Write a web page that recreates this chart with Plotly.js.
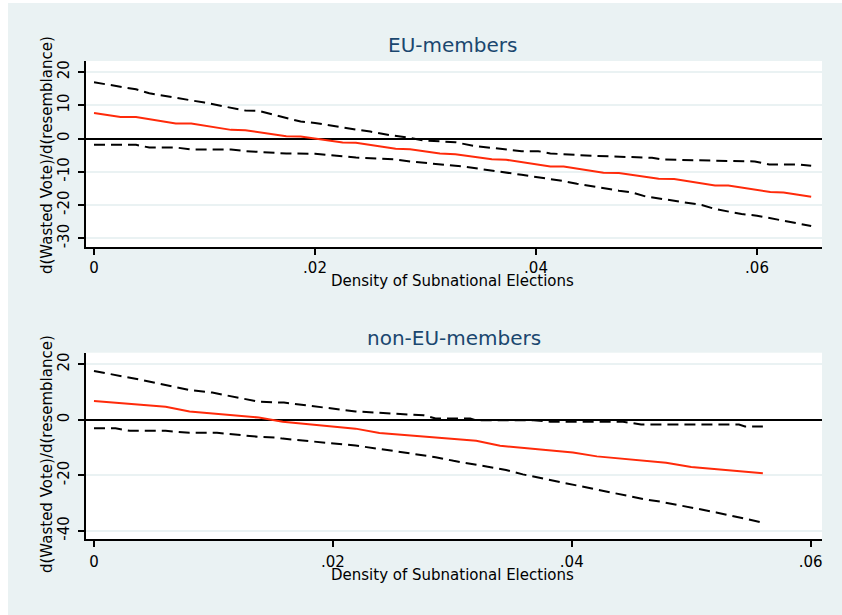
<!DOCTYPE html>
<html>
<head>
<meta charset="utf-8">
<script src="https://cdn.plot.ly/plotly-3.0.1.min.js"></script>
<style>
  html, body { margin: 0; padding: 0; background: #ffffff; }
  #chart { width: 842px; height: 615px; }
</style>
</head>
<body>
<div id="chart"></div>
<script>
// EU-members panel: marginal effect and its confidence band
const euEstX = [0, .0024, .0038, .0074, .0088, .0124, .0137, .0174, .0187, .0225, .0237, .0273, .0286, .0313, .0327, .0360, .0373, .0413, .0425, .0461, .0475, .0511, .0525, .0562, .0574, .0612, .0624, .0649];
const euEst = [7.7, 6.5, 6.5, 4.5, 4.5, 2.6, 2.5, 0.7, 0.6, -1.2, -1.3, -3.1, -3.2, -4.5, -4.7, -6.2, -6.4, -8.4, -8.4, -10.3, -10.4, -12.1, -12.2, -14.1, -14.1, -16.1, -16.2, -17.5];
const euHiX = [0, .0038, .0050, .0088, .0100, .0137, .0149, .0187, .0200, .0237, .0250, .0268, .0286, .0298, .0327, .0343, .0360, .0387, .0402, .0413, .0451, .0505, .0514, .0553, .0598, .0611, .0638, .0649];
const euHi = [16.9, 14.8, 13.6, 11.6, 10.8, 8.4, 8.3, 5.1, 4.7, 2.7, 2.1, 1.0, 0.2, -0.6, -1.1, -2.2, -2.8, -3.8, -3.8, -4.5, -5.2, -5.8, -6.3, -6.6, -6.9, -7.8, -7.8, -8.2];
const euLoX = [0, .0038, .0050, .0074, .0088, .0124, .0137, .0174, .0200, .0225, .0237, .0273, .0286, .0336, .0375, .0387, .0425, .0437, .0475, .0487, .0499, .0535, .0550, .0562, .0586, .0600, .0638, .0649];
const euLo = [-1.9, -1.9, -2.7, -2.7, -3.3, -3.3, -3.8, -4.5, -4.6, -5.3, -5.7, -6.3, -6.9, -8.5, -10.2, -10.9, -12.8, -13.6, -15.7, -16.2, -17.4, -19.2, -20.0, -21.2, -22.7, -23.2, -25.6, -26.3];

// non-EU-members panel
const nonEstX = [0, .0060, .0080, .0138, .0158, .0219, .0239, .0281, .0320, .0340, .0401, .0421, .0479, .0500, .0560];
const nonEst = [6.8, 4.7, 3.0, 0.8, -0.7, -3.2, -4.8, -6.2, -7.6, -9.4, -11.8, -13.2, -15.5, -17.0, -19.3];
const nonHiX = [0, .0018, .0038, .0080, .0099, .0138, .0159, .0219, .0239, .0276, .0286, .0315, .0320, .0368, .0382, .0443, .0458, .0540, .0545, .0560];
const nonHi = [17.6, 16.2, 14.5, 10.7, 9.8, 6.5, 6.2, 3.0, 2.6, 1.6, 0.5, 0.5, -0.2, -0.2, -0.7, -0.7, -1.7, -1.7, -2.4, -2.4];
const nonLoX = [0, .0018, .0030, .0060, .0080, .0103, .0139, .0153, .0158, .0219, .0239, .0286, .0301, .0340, .0345, .0359, .0460, .0474, .0502, .0521, .0560];
const nonLo = [-3.1, -3.1, -4.0, -4.0, -4.7, -4.7, -6.2, -6.4, -6.8, -9.3, -10.5, -13.5, -14.8, -17.8, -18.1, -19.7, -28.6, -29.5, -31.7, -33.4, -37.1];

const xTicks = [0, .02, .04, .06];
const xTickText = ["0", ".02", ".04", ".06"];
const euYTicks = [-30, -20, -10, 0, 10, 20];
const euYTickText = ["-30", "-20", "-10", "0", "10", "20"];
const nonYTicks = [-40, -20, 0, 20];
const nonYTickText = ["-40", "-20", "0", "20"];

const panelTitles = ["EU-members", "non-EU-members"];
const xTitle = "Density of Subnational Elections";
const yTitle = "d(Wasted Vote)/d(resemblance)";

const bg = "#eaf2f3";
const red = "#ff2a0a";
const font = "DejaVu Sans, Verdana, sans-serif";

function estLine(x, y, xa, ya) {
  return { x: x, y: y, xaxis: xa, yaxis: ya, type: "scatter", mode: "lines",
    line: { color: red, width: 2 }, hoverinfo: "skip" };
}
function bandLine(x, y, xa, ya) {
  return { x: x, y: y, xaxis: xa, yaxis: ya, type: "scatter", mode: "lines",
    line: { color: "#000000", width: 2, dash: "11px,6px" }, hoverinfo: "skip" };
}

const traces = [
  bandLine(euHiX, euHi, "x", "y"),
  bandLine(euLoX, euLo, "x", "y"),
  estLine(euEstX, euEst, "x", "y"),
  bandLine(nonHiX, nonHi, "x2", "y2"),
  bandLine(nonLoX, nonLo, "x2", "y2"),
  estLine(nonEstX, nonEst, "x2", "y2"),
];

function xAxis(range, anchor, standoff) {
  return {
    domain: [85.5 / 842, 822 / 842], range: range, anchor: anchor,
    tickvals: xTicks, ticktext: xTickText,
    showgrid: false, zeroline: false,
    showline: true, linecolor: "#000000", linewidth: 2,
    ticks: "outside", ticklen: 6, tickwidth: 2, tickcolor: "#000000",
    tickfont: { size: 15, color: "#000000" }, ticklabelstandoff: standoff,
  };
}
function yAxis(domain, range, ticks, labels, anchor) {
  return {
    domain: domain, range: range, anchor: anchor,
    tickvals: ticks, ticktext: labels, tickangle: -90,
    showgrid: true, gridcolor: bg, gridwidth: 2,
    zeroline: true, zerolinecolor: "#000000", zerolinewidth: 2,
    showline: true, linecolor: "#000000", linewidth: 2,
    ticks: "outside", ticklen: 6, tickwidth: 2, tickcolor: "#000000",
    tickfont: { size: 15, color: "#000000" }, ticklabelstandoff: 3,
  };
}

const py = (p) => 1 - p / 615;
const px = (p) => p / 842;

function note(text, x, y, size, color, angle) {
  return { text: text, xref: "paper", yref: "paper", x: x, y: y,
    xanchor: "center", yanchor: "middle", showarrow: false, textangle: angle || 0,
    font: { family: font, size: size, color: color } };
}

const layout = {
  width: 842, height: 615,
  margin: { l: 0, r: 0, t: 0, b: 0 },
  paper_bgcolor: bg, plot_bgcolor: "#ffffff",
  showlegend: false,
  font: { family: font, size: 15, color: "#000000" },
  xaxis: xAxis([-0.00077, 0.06588], "y", 0),
  yaxis: yAxis([py(247), py(61)], [-32.62, 23.31], euYTicks, euYTickText, "x"),
  xaxis2: xAxis([-0.00071, 0.06095], "y2", 2),
  yaxis2: yAxis([py(539), py(352.7)], [-42.99, 24.18], nonYTicks, nonYTickText, "x2"),
  annotations: [
    note(panelTitles[0], px(452), py(45), 20, "#1a476f"),
    note(panelTitles[1], px(454), py(337.5), 20, "#1a476f"),
    note(xTitle, px(452), py(281), 15, "#000000"),
    note(xTitle, px(452), py(575), 15, "#000000"),
    note(yTitle, px(47), py(155), 15, "#000000", -90),
    note(yTitle, px(47), py(454), 15, "#000000", -90),
  ],
  shapes: [
    { type: "rect", xref: "paper", yref: "paper", x0: 0, x1: px(8), y0: 0, y1: 1,
      fillcolor: "#ffffff", line: { width: 0 }, layer: "below" },
    { type: "rect", xref: "paper", yref: "paper", x0: 0, x1: 1, y0: py(3), y1: 1,
      fillcolor: "#ffffff", line: { width: 0 }, layer: "below" },
  ],
};

Plotly.newPlot("chart", traces, layout, { displayModeBar: false, staticPlot: true });
</script>
</body>
</html>
